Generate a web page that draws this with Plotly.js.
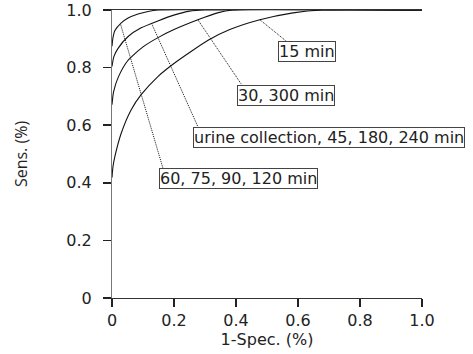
<!DOCTYPE html>
<html>
<head>
<meta charset="utf-8">
<script src="https://cdn.plot.ly/plotly-3.0.1.min.js"></script>
<style>html,body{margin:0;padding:0;background:#fff;}#chart{width:473px;height:354px;}</style>
</head>
<body>
<div id="chart"></div>
<script>
// ROC curves (1-Spec. vs Sens.)
const curveNames = ["60, 75, 90, 120 min", "urine collection, 45, 180, 240 min", "30, 300 min", "15 min"];
const xA = [0, 0.003, 0.009, 0.030, 0.052, 0.084, 0.116, 0.15, 1.0];
const yA = [0.874, 0.903, 0.928, 0.955, 0.972, 0.986, 0.995, 1.0, 1.0];
const xB = [0, 0.006, 0.019, 0.052, 0.094, 0.148, 0.202, 0.25, 0.30, 1.0];
const yB = [0.804, 0.838, 0.866, 0.908, 0.938, 0.962, 0.983, 0.996, 1.0, 1.0];
const xC = [0, 0.005, 0.020, 0.050, 0.100, 0.150, 0.200, 0.277, 0.340, 0.390, 1.0];
const yC = [0.671, 0.716, 0.766, 0.823, 0.872, 0.905, 0.932, 0.966, 0.990, 1.0, 1.0];
const xD = [0, 0.003, 0.009, 0.030, 0.062, 0.094, 0.148, 0.202, 0.255, 0.310, 0.380, 0.477, 0.584, 0.680, 1.0];
const yD = [0.418, 0.455, 0.490, 0.573, 0.654, 0.706, 0.769, 0.816, 0.856, 0.895, 0.932, 0.966, 0.990, 1.0, 1.0];

// label boxes (top-left corner) and leader-line anchor points on the curves
const labelX = [0.151, 0.261, 0.403, 0.535];
const labelY = [0.452, 0.595, 0.741, 0.891];
const leaderFromX = [0.028, 0.127, 0.277, 0.477];
const leaderFromY = [0.949, 0.955, 0.966, 0.966];
const leaderToX = [0.164, 0.277, 0.418, 0.563];
const leaderToY = [0.452, 0.595, 0.741, 0.891];

const tickVals = [0, 0.2, 0.4, 0.6, 0.8, 1.0];
const tickText = ["0", "0.2", "0.4", "0.6", "0.8", "1.0"];

const xs = [xA, xB, xC, xD];
const ys = [yA, yB, yC, yD];

const traces = [];
for (let i = 0; i < 4; i++) {
  traces.push({
    x: xs[i], y: ys[i], mode: 'lines', name: curveNames[i],
    line: {color: '#111', width: 1.1, shape: 'spline', smoothing: 0.6},
    hoverinfo: 'skip', cliponaxis: false
  });
}
for (let i = 0; i < 4; i++) {
  traces.push({
    x: [leaderFromX[i], leaderToX[i]], y: [leaderFromY[i], leaderToY[i]],
    mode: 'lines', line: {color: '#111', width: 1, dash: '1px,1px'},
    hoverinfo: 'skip', showlegend: false
  });
}

const annotations = curveNames.map((t, i) => ({
  x: labelX[i], y: labelY[i], xref: 'x', yref: 'y', text: t,
  xanchor: 'left', yanchor: 'top', showarrow: false,
  font: {family: 'DejaVu Sans', size: 16, color: '#222'},
  bgcolor: '#fff', bordercolor: '#444', borderwidth: 1, borderpad: 0
}));

const layout = {
  width: 473, height: 354,
  margin: {l: 112, r: 51, t: 10, b: 56},
  paper_bgcolor: '#fff', plot_bgcolor: '#fff',
  showlegend: false,
  font: {family: 'DejaVu Sans', size: 16, color: '#222'},
  xaxis: {
    range: [0, 1], tickmode: 'array', tickvals: tickVals, ticktext: tickText,
    showgrid: false, zeroline: false, showline: true, linecolor: '#333', linewidth: 1,
    mirror: true, ticks: 'outside', ticklen: 8, tickwidth: 1.5, tickcolor: '#222',
    tickfont: {family: 'DejaVu Sans', size: 16, color: '#222'},
    title: {text: '1-Spec. (%)', font: {family: 'DejaVu Sans', size: 16, color: '#222'}, standoff: 4},
    fixedrange: true
  },
  yaxis: {
    range: [0, 1], tickmode: 'array', tickvals: tickVals, ticktext: tickText,
    showgrid: false, zeroline: false, showline: true, linecolor: '#777', linewidth: 1,
    ticks: 'outside', ticklen: 8, tickwidth: 1.5, tickcolor: '#222', ticklabelstandoff: 8,
    tickfont: {family: 'DejaVu Sans', size: 16, color: '#222'},
    title: {text: 'Sens. (%)', font: {family: 'Open Sans', size: 16, color: '#222'}, standoff: 34},
    fixedrange: true
  },
  annotations: annotations
};

Plotly.newPlot('chart', traces, layout, {displayModeBar: false, staticPlot: true});
</script>
</body>
</html>
